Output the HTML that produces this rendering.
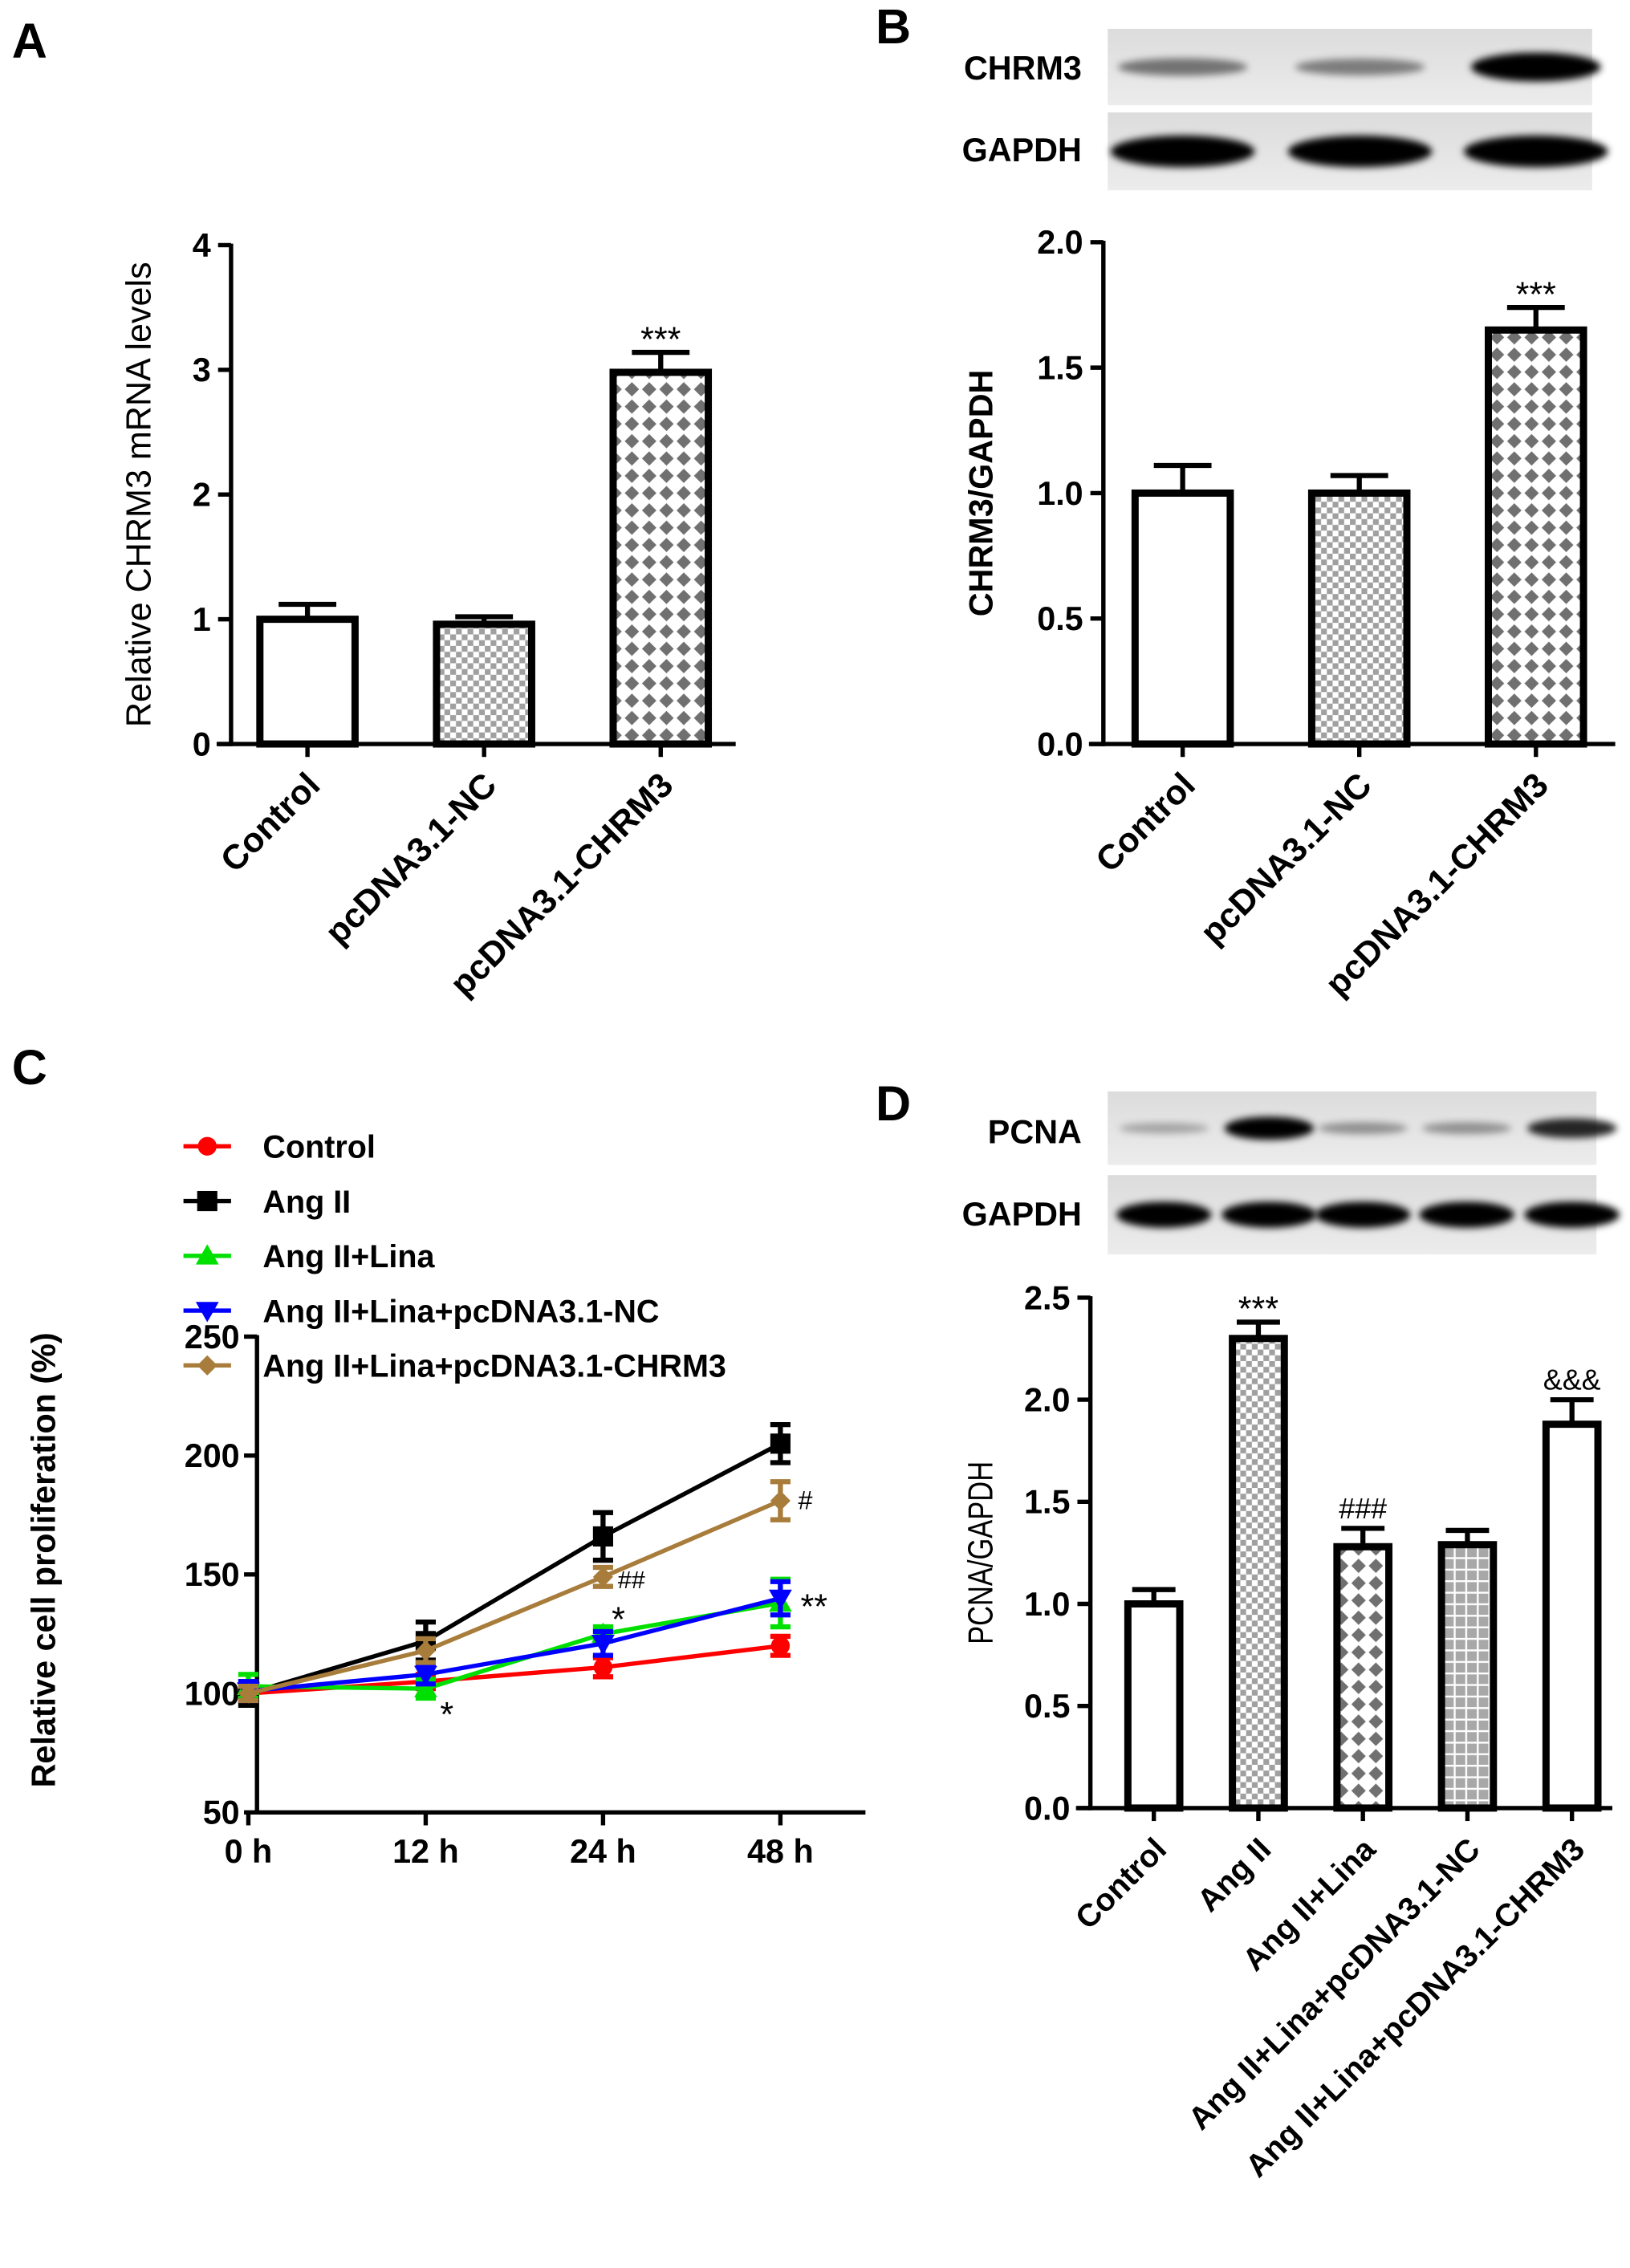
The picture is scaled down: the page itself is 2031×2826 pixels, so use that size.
<!DOCTYPE html>
<html><head><meta charset="utf-8"><style>
html,body{margin:0;padding:0;background:#fff;}
svg{display:block;font-family:"Liberation Sans",Arial,sans-serif;}
</style></head><body>
<svg id="fig" width="2031" height="2826" viewBox="0 0 1130 1573" xmlns="http://www.w3.org/2000/svg">
<defs>
<pattern id="checker" width="8" height="8" patternUnits="userSpaceOnUse"><rect width="8" height="8" fill="#fff"/><rect width="4" height="4" fill="#a0a0a0"/><rect x="4" y="4" width="4" height="4" fill="#a0a0a0"/></pattern>
<pattern id="diamond" width="12" height="12" patternUnits="userSpaceOnUse"><rect width="12" height="12" fill="#fff"/><polygon points="6,1 11,6 6,11 1,6" fill="#707070"/></pattern>
<pattern id="grid" width="8" height="8" patternUnits="userSpaceOnUse"><rect width="8" height="8" fill="#a8a8a8"/><rect x="0" y="0" width="8" height="1.3" fill="#fff"/><rect x="0" y="0" width="1.3" height="8" fill="#fff"/></pattern>
<filter id="blur" x="-20%" y="-50%" width="140%" height="200%"><feGaussianBlur stdDeviation="2.5"/></filter>
<linearGradient id="blotbg" x1="0" y1="0" x2="0" y2="1"><stop offset="0" stop-color="#dcdcdc"/><stop offset="1" stop-color="#ececec"/></linearGradient>
</defs>
<g id="root"></g>
</svg>
<script>
// ---- data ----
const catsA = ["Control","pcDNA3.1-NC","pcDNA3.1-CHRM3"];
const valsA = [1.0, 0.96, 2.98];
const errsA = [0.12, 0.06, 0.16];
const ticksA = [0,1,2,3,4];
const catsB = ["Control","pcDNA3.1-NC","pcDNA3.1-CHRM3"];
const valsB = [1.0, 1.0, 1.65];
const errsB = [0.11, 0.07, 0.09];
const ticksB = [0.0,0.5,1.0,1.5,2.0];
const catsD = ["Control","Ang II","Ang II+Lina","Ang II+Lina+pcDNA3.1-NC","Ang II+Lina+pcDNA3.1-CHRM3"];
const valsD = [1.0, 2.30, 1.28, 1.29, 1.88];
const errsD = [0.07, 0.08, 0.09, 0.07, 0.12];
const ticksD = [0.0,0.5,1.0,1.5,2.0,2.5];
const timesC = ["0 h","12 h","24 h","48 h"];
const ticksC = [50,100,150,200,250];
const seriesNames = ["Control","Ang II","Ang II+Lina","Ang II+Lina+pcDNA3.1-NC","Ang II+Lina+pcDNA3.1-CHRM3"];
const cControl = [100,105,111,120];
const cAngII = [100,122,166,205];
const cLina = [103,102,125,138];
const cNC = [101,108,121,140];
const cCHRM3 = [100,118,149,181];
const eControl = [3,3,4,4];
const eAngII = [5,8,10,8];
const eLina = [5,4,3,10];
const eNC = [4,4,5,7];
const eCHRM3 = [3,5,4,8];

const NS="http://www.w3.org/2000/svg";
const root=document.getElementById('root');
function mk(tag,attrs,parent,text){const e=document.createElementNS(NS,tag);for(const k in attrs)e.setAttribute(k,attrs[k]);if(text!==undefined)e.textContent=text;(parent||root).appendChild(e);return e;}

function label(t,x,y){const e=mk('text',{x:x,y:y,'font-size':34,'font-weight':'bold'},root,t);

}
label('A',8,40);label('B',607,30);label('C',8,752);label('D',607,777);

function barChart(o){
  const g=mk('g',{});
  
  
  const ymin=o.ticks[0],ymax=o.ticks[o.ticks.length-1];
  const Y=v=>o.y0-(v-ymin)/(ymax-ymin)*(o.y0-o.y1);
  const n=o.cats.length;
  const X=i=>o.xs+i*o.step;
  const ya=mk('line',{x1:o.ax,y1:o.y1-1,x2:o.ax,y2:o.y0+1.5,stroke:'#000','stroke-width':3},g);
  
  
  const xa=mk('line',{x1:o.ax-10,y1:o.y0,x2:o.xend,y2:o.y0,stroke:'#000','stroke-width':3},g);
  
  
  o.ticks.forEach(t=>{
    mk('line',{x1:o.ax-9,y1:Y(t),x2:o.ax,y2:Y(t),stroke:'#000','stroke-width':3},g);
    const tl=mk('text',{x:o.ax-14,y:Y(t)+8,'font-size':23,'font-weight':'bold','text-anchor':'end'},g,o.dec?t.toFixed(1):String(t));
    
    
  });
  const yt=mk('text',{x:0,y:0,'font-size':o.ylsize||23,'font-weight':o.ylbold?'bold':'normal','text-anchor':'middle',transform:`translate(${o.ylx},${(o.y0+o.y1)/2}) rotate(-90)`},g,o.ylabel);
  if(o.ylsx) yt.setAttribute('transform',`translate(${o.ylx},${(o.y0+o.y1)/2}) rotate(-90) scale(${o.ylsx},1)`);
  
  
  for(let i=0;i<n;i++){
    const cx=X(i),v=o.vals[i],e=o.errs[i];
    const top=Y(v+e);
    const eb=mk('path',{d:`M${cx},${Y(v)} V${top} M${cx-o.cap},${top} H${cx+o.cap}`,stroke:'#000','stroke-width':3.5,fill:'none'},g);
    
    
    const b=mk('rect',{x:cx-o.bw/2,y:Y(v),width:o.bw,height:o.y0-Y(v),fill:o.fills[i],stroke:'#000','stroke-width':5},g);
    
    
    mk('line',{x1:cx,y1:o.y0,x2:cx,y2:o.y0+9,stroke:'#000','stroke-width':3},g);
    const cl=mk('text',{x:0,y:0,'font-size':o.xlsize||24,'font-weight':'bold','text-anchor':'end',transform:`translate(${cx+10},${o.y0+30}) rotate(-45)`},g,o.cats[i]);
    
    
    if(o.sig[i]){
      const star=o.sig[i].startsWith('*');
      const s=mk('text',{x:cx,y:star?top-1:top-7,'font-size':star?24:20,'text-anchor':'middle'},g,o.sig[i]);
      
      
    }
  }
}

function blot(name,x,y,w,h,xs,intens,bw,bh){
  const g=mk('g',{});
  
  
  mk('rect',{x:x,y:y,width:w,height:h,fill:'url(#blotbg)'},g);
  xs.forEach((cx,i)=>{
    const a=intens[i];
    const band=mk('ellipse',{cx:cx,cy:y+h/2,rx:bw/2,ry:bh*(0.4+0.6*a)/2,fill:'#000','fill-opacity':Math.min(1,0.2+0.85*a),filter:'url(#blur)'},g);
    
    
  });
}
function blotLabel(t,x,y){const e=mk('text',{x:x,y:y,'font-size':23,'font-weight':'bold','text-anchor':'end'},root,t);

}

// Panel A
barChart({name:'panel-a-chart',cats:catsA,vals:valsA,errs:errsA,ticks:ticksA,y0:516,y1:170,ax:160,xend:510,xs:213,step:122.5,bw:66,cap:20,
 fills:['#fff','url(#checker)','url(#diamond)'],sig:['','','***'],ylabel:'Relative CHRM3 mRNA levels',ylx:104,ylsize:24,dec:false});
// Panel B
blot('chrm3-blot',768,20,336,53,[820,943,1065],[0.35,0.3,1],90,20);
blot('gapdh-blot-b',768,78,336,54,[820,943,1065],[1,1,1],100,22);
blotLabel('CHRM3',750,55);blotLabel('GAPDH',750,112);
barChart({name:'panel-b-chart',cats:catsB,vals:valsB,errs:errsB,ticks:ticksB,y0:516,y1:168,ax:765,xend:1120,xs:820,step:122.5,bw:66,cap:20,
 fills:['#fff','url(#checker)','url(#diamond)'],sig:['','','***'],ylabel:'CHRM3/GAPDH',ylx:688,ylsize:23,ylbold:true,dec:true});
// Panel D
blot('pcna-blot',768,757,339,51,[807,880,945,1017,1090],[0.1,1,0.2,0.2,0.75],62,16);
blot('gapdh-blot-d',768,815,339,55,[807,880,945,1017,1090],[1,1,1,1,1],66,18);
blotLabel('PCNA',750,793);blotLabel('GAPDH',750,850);
barChart({name:'panel-d-chart',cats:catsD,vals:valsD,errs:errsD,ticks:ticksD,y0:1254,y1:900,ax:756,xend:1118,xs:800,step:72.5,bw:36,cap:15,xlsize:22,
 fills:['#fff','url(#checker)','url(#diamond)','url(#grid)','#fff'],sig:['','***','###','','&&&'],ylabel:'PCNA/GAPDH',ylx:688,ylsize:24,ylsx:0.8,dec:true});

// Panel C line chart
(function(){
  const g=mk('g',{});
  
  
  const y0=1257,y1=927,ax=178;
  const Y=v=>y0-(v-50)/200*(y0-y1);
  const X=i=>172+i*123;
  const ya=mk('line',{x1:ax,y1:y1-1,x2:ax,y2:y0+1.5,stroke:'#000','stroke-width':3},g);
  
  
  const xa=mk('line',{x1:ax,y1:y0,x2:600,y2:y0,stroke:'#000','stroke-width':3},g);
  
  
  ticksC.forEach(t=>{
    mk('line',{x1:ax-9,y1:Y(t),x2:ax,y2:Y(t),stroke:'#000','stroke-width':3},g);
    const tl=mk('text',{x:ax-12,y:Y(t)+8,'font-size':23,'font-weight':'bold','text-anchor':'end'},g,String(t));
    
    
  });
  timesC.forEach((t,i)=>{
    mk('line',{x1:X(i),y1:y0,x2:X(i),y2:y0+9,stroke:'#000','stroke-width':3},g);
    const tl=mk('text',{x:X(i),y:y0+35,'font-size':23,'font-weight':'bold','text-anchor':'middle'},g,t);
    
    
  });
  const yt=mk('text',{x:0,y:0,'font-size':23,'font-weight':'bold','text-anchor':'middle',transform:`translate(38,${(y0+y1)/2-10}) rotate(-90)`},g,'Relative cell proliferation (%)');
  
  
  const series=[[cControl,eControl,'#ff0000','circle'],[cAngII,eAngII,'#000000','square'],[cLina,eLina,'#00e000','tri'],[cNC,eNC,'#0000ff','tridown'],[cCHRM3,eCHRM3,'#a87c3a','diamond']];
  function marker(type,x,y,col,par){
    let e;
    if(type==='circle') e=mk('circle',{cx:x,cy:y,r:6.5,fill:col},par);
    else if(type==='square') e=mk('rect',{x:x-7,y:y-7,width:14,height:14,fill:col},par);
    else if(type==='tri') e=mk('polygon',{points:`${x},${y-8} ${x+8},${y+6} ${x-8},${y+6}`,fill:col},par);
    else if(type==='tridown') e=mk('polygon',{points:`${x},${y+8} ${x+8},${y-6} ${x-8},${y-6}`,fill:col},par);
    else e=mk('polygon',{points:`${x},${y-7} ${x+7},${y} ${x},${y+7} ${x-7},${y}`,fill:col},par);
    return e;
  }
  series.forEach((s,si)=>{
    const sg=mk('g',{},g);
    
    
    const vals=s[0],errs=s[1],col=s[2];
    const pl=mk('polyline',{points:vals.map((v,i)=>X(i)+','+Y(v)).join(' '),fill:'none',stroke:col,'stroke-width':3},sg);
    
    
    vals.forEach((v,i)=>{
      const x=X(i);
      const eb=mk('path',{d:`M${x},${Y(v-errs[i])} V${Y(v+errs[i])} M${x-7},${Y(v+errs[i])} H${x+7} M${x-7},${Y(v-errs[i])} H${x+7}`,stroke:col,'stroke-width':3.5,fill:'none'},sg);
      
      
      const m=marker(s[3],x,Y(v),col,sg);
      
      
    });
    const ly=795+si*38;
    const lg=mk('g',{},g);
    
    
    mk('line',{x1:127,y1:ly,x2:160,y2:ly,stroke:col,'stroke-width':3},lg);
    marker(s[3],143.5,ly,col,lg);
    mk('text',{x:182,y:ly+8,'font-size':22,'font-weight':'bold'},lg,seriesNames[si]);
  });
  const anns=[['*',X(1)+10,Y(cLina[1])+26,24],['*',X(2)+6,Y(cLina[2])-2,24],['##',X(2)+10,Y(cCHRM3[2])+8,17],['#',X(3)+12,Y(cCHRM3[3])+6,18],['**',X(3)+14,Y(cNC[3])+14,24]];
  anns.forEach(a=>{const t=mk('text',{x:a[1],y:a[2],'font-size':a[3],'font-style':a[0].startsWith('#')?'italic':'normal'},g,a[0]);
    
    });
})();
</script>
</body></html>
